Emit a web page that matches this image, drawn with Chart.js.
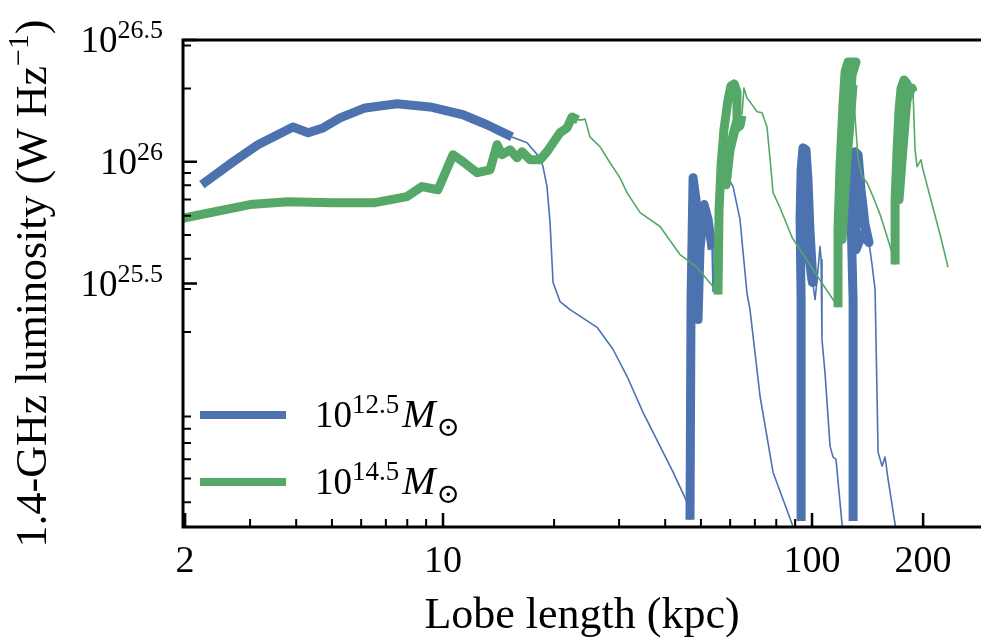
<!DOCTYPE html>
<html lang="en">
<head>
<meta charset="UTF-8">
<title>1.4-GHz luminosity vs lobe length</title>
<script src="https://cdn.jsdelivr.net/npm/chart.js"></script>
<style>
    body { margin: 0; background: #fff; }
    #wrap { width: 981px; height: 641px; position: relative; }
</style>
</head>
<body>
<div id="wrap"><canvas id="lumChart"></canvas></div>
<script>
// lobe length in kpc, luminosity as log10(W/Hz); one sub-array per segment
// "on" = thick (jet active), "off" = thin (fading)
const blueOnKpc = [
    [2.22, 2.70, 3.15, 3.92, 4.31, 4.73, 5.26, 6.15, 7.50, 9.22, 11.33, 13.16, 15.38],
    [46.7, 47.0, 47.6, 48.5, 49.1, 49.7, 51.0, 52.3, 53.6],
    [93.4, 93.4, 92.8, 93.4, 94.5, 96.3, 97.5, 98.7, 100.6, 96.3, 95.1, 96.9, 99.9, 100.6],
    [129.2, 129.2, 127.6, 128.4, 130.8, 133.3, 135.8, 139.2, 142.7, 136.6, 131.6, 131.6, 136.6, 142.7]
];
const blueOnLogL = [
    [25.906, 26.0, 26.07, 26.143, 26.119, 26.139, 26.18, 26.221, 26.238, 26.225, 26.193, 26.152, 26.102],
    [24.53, 25.434, 25.934, 25.844, 25.352, 25.639, 25.824, 25.762, 25.639],
    [24.525, 25.434, 25.762, 25.967, 26.057, 26.049, 25.926, 25.721, 25.504, 25.680, 25.885, 25.680, 25.516, 25.496],
    [24.525, 25.434, 25.762, 25.967, 26.041, 26.029, 25.885, 25.742, 25.668, 25.783, 25.885, 25.639, 25.701, 25.668]
];
const blueOffKpc = [
    [15.38, 16.89, 18.32, 18.66, 19.13, 19.50, 19.87, 20.75, 22.09, 26.15, 28.88, 31.52, 34.83, 38.73, 42.02, 45.84, 46.7],
    [53.6, 53.9, 54.6, 55.6, 57.4, 59.6, 61.1, 63.8, 66.6, 67.9, 72.3, 78.4, 88.3, 91.1],
    [100.6, 101.9, 103.2, 105.1, 105.8, 106.4, 108.4, 111.9, 114.0, 116.1, 120.6, 122.9],
    [142.7, 145.4, 148.2, 151.0, 154.8, 157.7, 160.7, 167.9, 171.0]
];
const blueOffLogL = [
    [26.102, 26.078, 26.016, 25.980, 25.898, 25.750, 25.504, 25.426, 25.393, 25.320, 25.230, 25.119, 24.971, 24.832, 24.725, 24.602, 24.53],
    [25.639, 25.467, 25.598, 25.816, 25.898, 25.926, 25.898, 25.762, 25.463, 25.393, 25.037, 24.725, 24.512, 24.43],
    [25.496, 25.434, 25.516, 25.652, 25.598, 25.270, 25.135, 24.832, 24.787, 24.779, 24.512, 24.43],
    [25.668, 25.578, 25.475, 24.807, 24.750, 24.787, 24.697, 24.512, 24.43]
];

const greenOnKpc = [
    [1.97, 3.00, 3.80, 5.03, 6.54, 7.99, 8.77, 9.69, 10.64, 11.33, 12.37, 13.41, 14.01, 14.45, 15.19, 15.87, 16.37, 17.21, 18.32, 19.13, 20.75, 21.68, 22.37, 23.22],
    [55.6, 55.98, 56.7, 57.7, 59.2, 60.3, 61.5, 62.6, 62.6, 61.1, 59.2, 58.5, 59.95, 61.8, 63.8, 64.6],
    [117.6, 117.6, 119.1, 121.3, 122.9, 125.2, 131.6, 128.4, 126.0, 122.9, 120.6, 124.4, 127.6, 129.2],
    [167.9, 167.9, 170.0, 172.1, 174.3, 177.6, 180.9, 179.8, 175.4, 172.1, 176.5, 180.9, 184.3, 186.6, 187.8]
];
const greenOnLogL = [
    [25.768, 25.824, 25.836, 25.832, 25.832, 25.857, 25.898, 25.885, 26.029, 26.0, 25.955, 25.967, 26.070, 26.029, 26.049, 26.016, 26.041, 26.008, 26.008, 26.041, 26.119, 26.139, 26.184, 26.172],
    [25.455, 25.803, 25.988, 26.131, 26.254, 26.311, 26.320, 26.287, 26.172, 26.111, 26.008, 25.906, 26.049, 26.131, 26.148, 26.189],
    [25.402, 25.721, 25.988, 26.234, 26.369, 26.410, 26.410, 26.357, 26.193, 25.906, 25.680, 26.008, 26.213, 26.316],
    [25.578, 25.844, 26.049, 26.213, 26.303, 26.336, 26.320, 26.213, 26.008, 25.844, 26.090, 26.254, 26.287, 26.303, 26.287]
];
const greenOffKpc = [
    [23.22, 23.81, 24.25, 25.02, 26.65, 28.35, 30.18, 31.52, 34.20, 38.73, 43.87, 48.80, 53.90, 55.6],
    [64.6, 65.4, 66.6, 67.9, 71.0, 73.2, 75.5, 77.0, 78.4, 81.9, 88.3, 100.6, 115.4, 117.6],
    [129.2, 130.8, 133.3, 136.6, 141.0, 146.3, 152.9, 159.7, 165.8, 167.9],
    [187.8, 190.2, 192.6, 197.4, 199.9, 208.8, 222.3, 233.7]
];
const greenOffLogL = [
    [26.172, 26.172, 26.176, 26.102, 26.061, 25.996, 25.934, 25.873, 25.791, 25.734, 25.619, 25.566, 25.488, 25.455],
    [26.193, 26.303, 26.262, 26.246, 26.205, 26.201, 26.143, 26.008, 25.873, 25.811, 25.689, 25.557, 25.422, 25.402],
    [26.316, 26.184, 26.008, 25.939, 25.914, 25.857, 25.783, 25.693, 25.611, 25.578],
    [26.287, 26.049, 25.980, 26.008, 25.967, 25.857, 25.701, 25.566]
];

const massExps = ['12.5', '14.5'];   // halo mass exponents for the legend
const xMajorTicks = [2, 10, 100, 200];
const xTickLabels = ['2', '10', '100', '200'];
const xMinorTicks = [3, 4, 5, 6, 7, 8, 9, 20, 30, 40, 50, 60, 70, 80, 90];
const yMajorTicks = [Math.pow(10, 25.5), 1e26, Math.pow(10, 26.5)];
const yTickExps = ['25.5', '26', '26.5'];
const yMinorTicks = [4e24, 5e24, 6e24, 7e24, 8e24, 9e24, 2e25, 3e25, 4e25, 5e25, 6e25, 7e25, 8e25, 9e25, 2e26, 3e26];

const BLUE = '#4c72b0';
const GREEN = '#55a868';
const FONT = "'Liberation Serif', 'DejaVu Serif', serif";

function buildSeries(kpcSegs, logSegs) {
    const pts = [];
    kpcSegs.forEach((seg, i) => {
        if (i > 0) pts.push({ x: seg[0], y: null });
        seg.forEach((x, j) => pts.push({ x: x, y: Math.pow(10, logSegs[i][j]) }));
    });
    return pts;
}

// draw a run of text pieces (for superscripts etc.)
function drawPieces(ctx, pieces, x, y, align) {
    let total = 0;
    pieces.forEach(p => {
        ctx.font = (p.italic ? 'italic ' : '') + p.size + 'px ' + FONT;
        p.w = ctx.measureText(p.t).width + (p.gap || 0);
        total += p.w;
    });
    let cx = x;
    if (align === 'right') cx = x - total;
    if (align === 'center') cx = x - total / 2;
    pieces.forEach(p => {
        ctx.font = (p.italic ? 'italic ' : '') + p.size + 'px ' + FONT;
        ctx.fillText(p.t, cx + (p.gap || 0), y + (p.dy || 0));
        cx += p.w;
    });
}

const axesPlugin = {
    id: 'axesPlugin',
    afterDraw(chart) {
        const ctx = chart.ctx;
        const area = chart.chartArea;
        const xs = chart.scales.x, ys = chart.scales.y;
        ctx.save();
        ctx.strokeStyle = '#000';
        ctx.fillStyle = '#000';
        ctx.lineCap = 'butt';

        // spines
        ctx.lineWidth = 3;
        ctx.beginPath();
        ctx.moveTo(area.left, area.top); ctx.lineTo(area.right + 2, area.top);
        ctx.moveTo(area.left, area.top - 1.5); ctx.lineTo(area.left, area.bottom + 1.5);
        ctx.moveTo(area.left - 1.5, area.bottom); ctx.lineTo(area.right + 2, area.bottom);
        ctx.stroke();

        // ticks pointing inward
        ctx.lineWidth = 2.5;
        ctx.beginPath();
        xMajorTicks.forEach(v => { const px = xs.getPixelForValue(v); ctx.moveTo(px, area.bottom); ctx.lineTo(px, area.bottom - 14); });
        yMajorTicks.forEach(v => { const py = ys.getPixelForValue(v); ctx.moveTo(area.left, py); ctx.lineTo(area.left + 14, py); });
        ctx.stroke();
        ctx.lineWidth = 2;
        ctx.beginPath();
        xMinorTicks.forEach(v => { const px = xs.getPixelForValue(v); ctx.moveTo(px, area.bottom); ctx.lineTo(px, area.bottom - 8); });
        yMinorTicks.forEach(v => { const py = ys.getPixelForValue(v); ctx.moveTo(area.left, py); ctx.lineTo(area.left + 8, py); });
        ctx.stroke();

        // tick labels
        ctx.textBaseline = 'alphabetic';
        xMajorTicks.forEach((v, i) => {
            drawPieces(ctx, [{ t: xTickLabels[i], size: 38 }], xs.getPixelForValue(v), area.bottom + 45, 'center');
        });
        yMajorTicks.forEach((v, i) => {
            const py = ys.getPixelForValue(v);
            drawPieces(ctx, [
                { t: '10', size: 37 },
                { t: yTickExps[i], size: 26, dy: -14 }
            ], area.left - 20, py + 12, 'right');
        });

        // axis titles
        drawPieces(ctx, [{ t: 'Lobe length (kpc)', size: 44 }], (area.left + area.right) / 2, 628, 'center');
        ctx.save();
        ctx.translate(46, (area.top + area.bottom) / 2);
        ctx.rotate(-Math.PI / 2);
        drawPieces(ctx, [
            { t: '1.4-GHz luminosity (W Hz', size: 44 },
            { t: '\u22121', size: 30, dy: -18 },
            { t: ')', size: 44 }
        ], 0, 0, 'center');
        ctx.restore();

        // legend
        [BLUE, GREEN].forEach((col, i) => {
            const ly = 415 + i * 67;
            ctx.strokeStyle = col;
            ctx.lineWidth = 8;
            ctx.beginPath();
            ctx.moveTo(200, ly); ctx.lineTo(286, ly);
            ctx.stroke();
            ctx.fillStyle = '#000';
            drawPieces(ctx, [
                { t: '10', size: 37 },
                { t: massExps[i], size: 27, dy: -14 },
                { t: 'M', size: 40, italic: true, gap: 3 },
                { t: '\u2299', size: 28, dy: 9, gap: 1 }
            ], 315, ly + 12, 'left');
        });
        ctx.restore();
    }
};

const thick = 9, thin = 1.6;
new Chart(document.getElementById('lumChart'), {
    type: 'line',
    data: {
        datasets: [
            { label: 'hi-off', data: buildSeries(greenOffKpc, greenOffLogL), borderColor: GREEN, borderWidth: thin, order: 1 },
            { label: 'hi-on', data: buildSeries(greenOnKpc, greenOnLogL), borderColor: GREEN, borderWidth: thick, order: 2 },
            { label: 'lo-off', data: buildSeries(blueOffKpc, blueOffLogL), borderColor: BLUE, borderWidth: thin, order: 3 },
            { label: 'lo-on', data: buildSeries(blueOnKpc, blueOnLogL), borderColor: BLUE, borderWidth: thick, order: 4 }
        ]
    },
    options: {
        responsive: true,
        maintainAspectRatio: false,
        animation: false,
        events: [],
        spanGaps: false,
        elements: {
            point: { radius: 0 },
            line: { tension: 0, borderJoinStyle: 'round', borderCapStyle: 'butt', fill: false }
        },
        datasets: { line: { clip: 0 } },
        layout: { padding: { left: 183, right: 0, top: 40, bottom: 114 } },
        scales: {
            x: { type: 'logarithmic', display: false, min: 1.974, max: 287 },
            y: { type: 'logarithmic', display: false, min: Math.pow(10, 24.5), max: Math.pow(10, 26.5) }
        },
        plugins: { legend: { display: false }, tooltip: { enabled: false } }
    },
    plugins: [axesPlugin]
});
</script>
</body>
</html>
